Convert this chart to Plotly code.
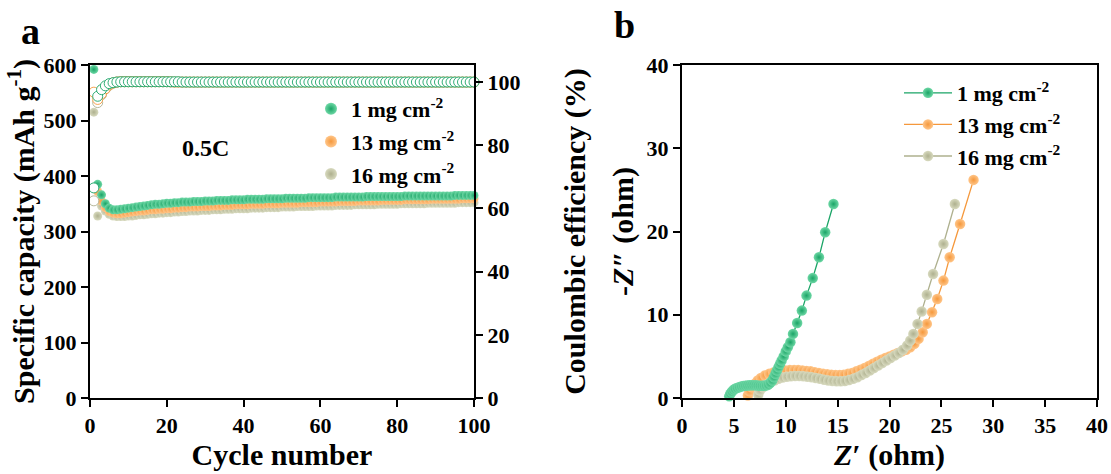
import plotly.graph_objects as go

# ---------------- Panel a data ----------------
cycles = list(range(1, 101))

cap_1 = [592, 385, 366, 350, 342, 339, 339, 340, 341, 342,
         343, 344, 345, 346, 347, 348, 349, 349, 350, 351,
         351, 352, 352, 353, 353, 353, 354, 354, 354, 355,
         355, 355, 356, 356, 356, 356, 357, 357, 357, 357,
         358, 358, 358, 358, 358, 359, 359, 359, 359, 359,
         360, 360, 360, 360, 360, 360, 361, 361, 361, 361,
         361, 361, 361, 362, 362, 362, 362, 362, 362, 362,
         362, 363, 363, 363, 363, 363, 363, 363, 363, 363,
         363, 364, 364, 364, 364, 364, 364, 364, 364, 364,
         364, 364, 364, 364, 365, 365, 365, 365, 365, 365]

cap_13 = [550, 372, 355, 343, 336, 333, 332, 332, 333, 334,
          335, 336, 337, 337, 338, 339, 339, 340, 340, 341,
          341, 342, 342, 343, 343, 344, 344, 344, 345, 345,
          345, 346, 346, 346, 347, 347, 347, 348, 348, 348,
          348, 349, 349, 349, 349, 350, 350, 350, 350, 351,
          351, 351, 351, 351, 352, 352, 352, 352, 352, 353,
          353, 353, 353, 353, 354, 354, 354, 354, 354, 355,
          355, 355, 355, 355, 355, 356, 356, 356, 356, 356,
          356, 357, 357, 357, 357, 357, 357, 357, 358, 358,
          358, 358, 358, 358, 358, 358, 359, 359, 359, 359]

cap_16 = [515, 328, 346, 337, 331, 328, 327, 327, 327, 328,
          328, 329, 330, 330, 331, 332, 332, 333, 333, 334,
          334, 335, 335, 336, 336, 337, 337, 337, 338, 338,
          338, 339, 339, 339, 340, 340, 340, 341, 341, 341,
          341, 342, 342, 342, 342, 343, 343, 343, 343, 344,
          344, 344, 344, 345, 345, 345, 345, 345, 346, 346,
          346, 346, 346, 347, 347, 347, 347, 347, 348, 348,
          348, 348, 348, 348, 349, 349, 349, 349, 349, 349,
          350, 350, 350, 350, 350, 350, 350, 351, 351, 351,
          351, 351, 351, 351, 351, 352, 352, 352, 352, 352]

ce_1 = [66.5, 95.5, 97.6, 98.8, 99.5, 99.8, 100.0, 100.1, 100.1, 100.1,
        100.1, 100.1, 100.1, 100.1, 100.1, 100.1, 100.1, 100.1, 100.1, 100.1,
        100.1, 100.1, 100.1, 100.0, 100.0, 100.0, 100.0, 100.0, 100.0, 100.0,
        100.0, 100.0, 100.0, 100.0, 100.0, 100.0, 100.0, 100.0, 100.0, 100.0,
        100.0, 100.0, 100.0, 100.0, 100.0, 100.0, 100.0, 100.0, 100.0, 100.0,
        100.0, 100.0, 100.0, 100.0, 100.0, 100.0, 100.0, 100.0, 100.0, 100.0,
        100.0, 100.0, 100.0, 100.0, 100.0, 100.0, 100.0, 100.0, 100.0, 100.0,
        100.0, 100.0, 100.0, 100.0, 100.0, 100.0, 100.0, 100.0, 100.0, 100.0,
        100.0, 100.0, 100.0, 100.0, 100.0, 100.0, 100.0, 100.0, 100.0, 100.0,
        100.0, 100.0, 100.0, 100.0, 100.0, 100.0, 100.0, 100.0, 100.0, 100.0]

ce_13 = [96.8, 94.5, 96.3, 97.9, 99.1, 99.7, 100.0, 100.1, 100.1, 100.1,
         100.1, 100.1, 100.1, 100.1, 100.1, 100.1, 100.1, 100.1, 100.1, 100.1,
         100.1, 100.0, 100.0, 100.0, 100.0, 100.0, 100.0, 100.0, 100.0, 100.0,
         100.0, 100.0, 100.0, 100.0, 100.0, 100.0, 100.0, 100.0, 100.0, 100.0,
         100.0, 100.0, 100.0, 100.0, 100.0, 100.0, 100.0, 100.0, 100.0, 100.0,
         100.0, 100.0, 100.0, 100.0, 100.0, 100.0, 100.0, 100.0, 100.0, 100.0,
         100.0, 100.0, 100.0, 100.0, 100.0, 100.0, 100.0, 100.0, 100.0, 100.0,
         100.0, 100.0, 100.0, 100.0, 100.0, 100.0, 100.0, 100.0, 100.0, 100.0,
         100.0, 100.0, 100.0, 100.0, 100.0, 100.0, 100.0, 100.0, 100.0, 100.0,
         100.0, 100.0, 100.0, 100.0, 100.0, 100.0, 100.0, 100.0, 100.0, 100.0]

ce_16 = [62.4, 93.5, 96.0, 97.8, 99.0, 99.7, 100.0, 100.1, 100.1, 100.1,
         100.1, 100.1, 100.1, 100.1, 100.1, 100.1, 100.1, 100.1, 100.1, 100.1,
         100.0, 100.0, 100.0, 100.0, 100.0, 100.0, 100.0, 100.0, 100.0, 100.0,
         100.0, 100.0, 100.0, 100.0, 100.0, 100.0, 100.0, 100.0, 100.0, 100.0,
         100.0, 100.0, 100.0, 100.0, 100.0, 100.0, 100.0, 100.0, 100.0, 100.0,
         100.0, 100.0, 100.0, 100.0, 100.0, 100.0, 100.0, 100.0, 100.0, 100.0,
         100.0, 100.0, 100.0, 100.0, 100.0, 100.0, 100.0, 100.0, 100.0, 100.0,
         100.0, 100.0, 100.0, 100.0, 100.0, 100.0, 100.0, 100.0, 100.0, 100.0,
         100.0, 100.0, 100.0, 100.0, 100.0, 100.0, 100.0, 100.0, 100.0, 100.0,
         100.0, 100.0, 100.0, 100.0, 100.0, 100.0, 100.0, 100.0, 100.0, 100.0]

# ---------------- Panel b data (Nyquist) ----------------
zr_1 = [4.7, 4.5, 4.55, 4.65, 4.8, 4.95, 5.1, 5.3, 5.5, 5.7, 5.9, 6.1, 6.3, 6.5, 6.7,
        6.9, 7.1, 7.3, 7.5, 7.7, 7.9, 8.1, 8.3, 8.5, 8.7, 8.85, 9.0, 9.15, 9.3, 9.45,
        9.6, 9.8, 10.0, 10.2, 10.45, 10.7, 11.1, 11.55, 12.0, 12.6, 13.2, 13.8, 14.6]
zi_1 = [-0.6, -0.2, 0.2, 0.5, 0.75, 0.95, 1.1, 1.2, 1.3, 1.38, 1.43, 1.47, 1.5, 1.52, 1.53,
        1.53, 1.52, 1.5, 1.48, 1.47, 1.47, 1.5, 1.6, 1.8, 2.1, 2.5, 2.9, 3.3, 3.7, 4.1,
        4.5, 5.0, 5.6, 6.1, 6.7, 7.7, 9.0, 10.5, 12.3, 14.4, 16.9, 19.9, 23.3]

zr_13 = [6.3, 6.35, 6.5, 6.7, 7.0, 7.3, 7.6, 8.0, 8.4, 8.8, 9.2, 9.6, 10.0, 10.4, 10.8,
         11.2, 11.6, 12.0, 12.4, 12.8, 13.2, 13.6, 14.0, 14.4, 14.8, 15.2, 15.6, 16.0,
         16.4, 16.8, 17.2, 17.6, 18.0, 18.4, 18.8, 19.2, 19.6, 20.0, 20.4, 20.8, 21.2,
         21.6, 22.0, 22.4, 22.8, 23.2, 23.6, 24.1, 24.6, 25.2, 25.8, 26.8, 28.1]
zi_13 = [-0.2, 0.3, 0.8, 1.3, 1.7, 2.1, 2.4, 2.7, 2.9, 3.05, 3.15, 3.25, 3.3, 3.35, 3.35,
         3.35, 3.3, 3.25, 3.2, 3.1, 3.0, 2.9, 2.85, 2.8, 2.75, 2.75, 2.8, 2.9,
         3.0, 3.2, 3.4, 3.6, 3.85, 4.1, 4.35, 4.6, 4.8, 5.0, 5.2, 5.4, 5.6,
         5.8, 6.1, 6.5, 7.1, 7.9, 8.9, 10.3, 11.9, 14.1, 16.9, 20.9, 26.2]

zr_16 = [7.3, 7.35, 7.5, 7.8, 8.1, 8.5, 8.9, 9.3, 9.7, 10.1, 10.5, 10.9, 11.3, 11.7, 12.1,
         12.5, 12.9, 13.3, 13.7, 14.1, 14.5, 14.9, 15.3, 15.7, 16.1, 16.5, 16.9, 17.3,
         17.7, 18.1, 18.5, 18.9, 19.3, 19.7, 20.1, 20.5, 20.9, 21.3, 21.7, 22.0, 22.3,
         22.7, 23.1, 23.6, 24.2, 25.2, 26.3]
zi_16 = [-0.1, 0.4, 0.9, 1.3, 1.6, 1.9, 2.1, 2.3, 2.45, 2.55, 2.6, 2.65, 2.65, 2.6, 2.55,
         2.5, 2.4, 2.3, 2.2, 2.1, 2.05, 2.0, 2.0, 2.05, 2.15, 2.3, 2.5, 2.75,
         3.0, 3.3, 3.6, 3.9, 4.2, 4.5, 4.8, 5.1, 5.4, 5.8, 6.3, 6.9, 7.7,
         8.9, 10.4, 12.4, 14.9, 18.5, 23.3]

# tick values / labels (major and minor)
cyc_ticks = [0, 20, 40, 60, 80, 100]
cyc_minor = [10, 30, 50, 70, 90]
cap_ticks = [0, 100, 200, 300, 400, 500, 600]
cap_minor = [50, 150, 250, 350, 450, 550]
ce_ticks = [0, 20, 40, 60, 80, 100]
ce_minor = [10, 30, 50, 70, 90]
zr_ticks = [0, 5, 10, 15, 20, 25, 30, 35, 40]
zr_minor = [2.5, 7.5, 12.5, 17.5, 22.5, 27.5, 32.5, 37.5]
zi_ticks = [0, 10, 20, 30, 40]
zi_minor = [5, 15, 25, 35]

labels = ["1 mg cm<sup>-2</sup>", "13 mg cm<sup>-2</sup>", "16 mg cm<sup>-2</sup>"]
colors = ["#1aa466", "#f5983c", "#aeb08e"]
light = ["#6fd8a6", "#ffc68a", "#d8dabf"]

FONT = "Liberation Serif"
W, H = 1111, 474

def px_x(p):
    return p / W

def px_y(p):
    return 1 - p / H

def bold(vals):
    return ["<b>%g</b>" % v for v in vals]

fig = go.Figure()

# Panel a: capacity (filled) and CE (open)
caps = [cap_1, cap_13, cap_16]
ces = [ce_1, ce_13, ce_16]
for i in [2, 1, 0]:
    fig.add_trace(go.Scatter(
        x=cycles, y=ces[i], mode="markers", xaxis="x", yaxis="y2",
        marker=dict(symbol="circle", size=10, color="white",
                    line=dict(color=colors[i], width=0.9)),
        showlegend=False, cliponaxis=False))
for i in [2, 1, 0]:
    fig.add_trace(go.Scatter(
        x=cycles, y=caps[i], mode="markers", xaxis="x", yaxis="y",
        name="<b>" + labels[i] + "</b>", legend="legend", legendrank=i + 1,
        legendgroup="a%d" % i,
        marker=dict(symbol="circle", size=9, color=light[i],
                    gradient=dict(type="radial", color=colors[i]),
                    line=dict(width=0)),
        cliponaxis=False))

# Panel b: Nyquist
zrs = [zr_1, zr_13, zr_16]
zis = [zi_1, zi_13, zi_16]
for i in [1, 2, 0]:
    fig.add_trace(go.Scatter(
        x=zrs[i], y=zis[i], mode="lines+markers", xaxis="x3", yaxis="y3",
        name="<b>" + labels[i] + "</b>", legend="legend2", legendrank=i + 1,
        legendgroup="b%d" % i,
        line=dict(color=colors[i], width=1.3),
        marker=dict(symbol="circle", size=10.5, color=light[i],
                    gradient=dict(type="radial", color=colors[i]),
                    line=dict(width=0)),
        cliponaxis=False))

tickfont = dict(family=FONT, size=22, color="black", weight=700)
titlefont = dict(family=FONT, size=30, color="black")
common = dict(showline=True, linecolor="black", linewidth=2, ticks="outside",
              ticklen=7, tickwidth=2, tickcolor="black", showgrid=False,
              zeroline=False, tickfont=tickfont, tickmode="array", automargin=False)

# overlay axes that only carry the short minor ticks
def minor_axis(overlay, anchor, side, rng, vals):
    return dict(overlaying=overlay, anchor=anchor, side=side, range=rng,
                tickmode="array", tickvals=vals, ticks="outside", ticklen=4,
                tickwidth=2, tickcolor="black", showticklabels=False,
                showline=False, showgrid=False, zeroline=False, automargin=False)

fig.update_layout(
    width=W, height=H, margin=dict(l=0, r=0, t=0, b=0, autoexpand=False),
    paper_bgcolor="white", plot_bgcolor="white",
    font=dict(family=FONT, color="black"),
    xaxis=dict(domain=[px_x(90), px_x(474)], range=[0, 100],
               tickvals=cyc_ticks, ticktext=bold(cyc_ticks),
               mirror=True, anchor="y",
               title=dict(text="<b>Cycle number</b>", font=titlefont, standoff=6),
               **common),
    yaxis=dict(domain=[px_y(398), px_y(65)], range=[0, 600],
               tickvals=cap_ticks, ticktext=bold(cap_ticks),
               anchor="x",
               title=dict(text="<b>Specific capacity (mAh g<sup>-1</sup>)</b>", font=titlefont, standoff=0),
               **common),
    yaxis2=dict(overlaying="y", side="right", anchor="x", range=[0, 105.4],
                tickvals=ce_ticks, ticktext=bold(ce_ticks),
                title=dict(text="<b>Coulombic efficiency (%)</b>", font=titlefont, standoff=45),
                **common),
    xaxis3=dict(domain=[px_x(682), px_x(1097)], range=[0, 40],
                tickvals=zr_ticks, ticktext=bold(zr_ticks),
                mirror=True, anchor="y3",
                title=dict(text="<b><i>Z</i>′ (ohm)</b>", font=titlefont, standoff=6),
                **common),
    yaxis3=dict(domain=[px_y(398), px_y(65)], range=[0, 40],
                tickvals=zi_ticks, ticktext=bold(zi_ticks),
                mirror=True, anchor="x3",
                title=dict(text="<b>-<i>Z</i>″ (ohm)</b>", font=titlefont, standoff=4),
                **common),
    xaxis4=minor_axis("x", "y", "bottom", [0, 100], cyc_minor),
    yaxis4=minor_axis("y", "x", "left", [0, 600], cap_minor),
    yaxis5=minor_axis("y", "x", "right", [0, 105.4], ce_minor),
    xaxis5=minor_axis("x3", "y3", "bottom", [0, 40], zr_minor),
    yaxis6=minor_axis("y3", "x3", "left", [0, 40], zi_minor),
    legend=dict(x=px_x(311), y=px_y(88), xanchor="left", yanchor="top",
                bgcolor="rgba(0,0,0,0)",
                font=dict(family=FONT, size=22, color="black"),
                tracegroupgap=1, itemsizing="constant"),
    legend2=dict(x=px_x(899), y=px_y(72), xanchor="left", yanchor="top",
                 bgcolor="rgba(0,0,0,0)",
                 font=dict(family=FONT, size=22, color="black"),
                 tracegroupgap=0, itemsizing="trace", itemwidth=48),
    annotations=[
        dict(text="<b>a</b>", xref="paper", yref="paper", x=px_x(30), y=px_y(31),
             xanchor="center", yanchor="middle", showarrow=False,
             font=dict(family=FONT, size=38, color="black")),
        dict(text="<b>b</b>", xref="paper", yref="paper", x=px_x(624), y=px_y(25.5),
             xanchor="center", yanchor="middle", showarrow=False,
             font=dict(family=FONT, size=38, color="black")),
        dict(text="<b>0.5C</b>", xref="x", yref="y", x=30, y=450,
             xanchor="center", yanchor="middle", showarrow=False,
             font=dict(family=FONT, size=24, color="black")),
    ],
)

fig.write_html(
    "out.html",
    config={"displayModeBar": False},
    post_script="document.body.style.margin='0';document.body.style.padding='0';"
                "document.documentElement.style.overflow='hidden';",
)
